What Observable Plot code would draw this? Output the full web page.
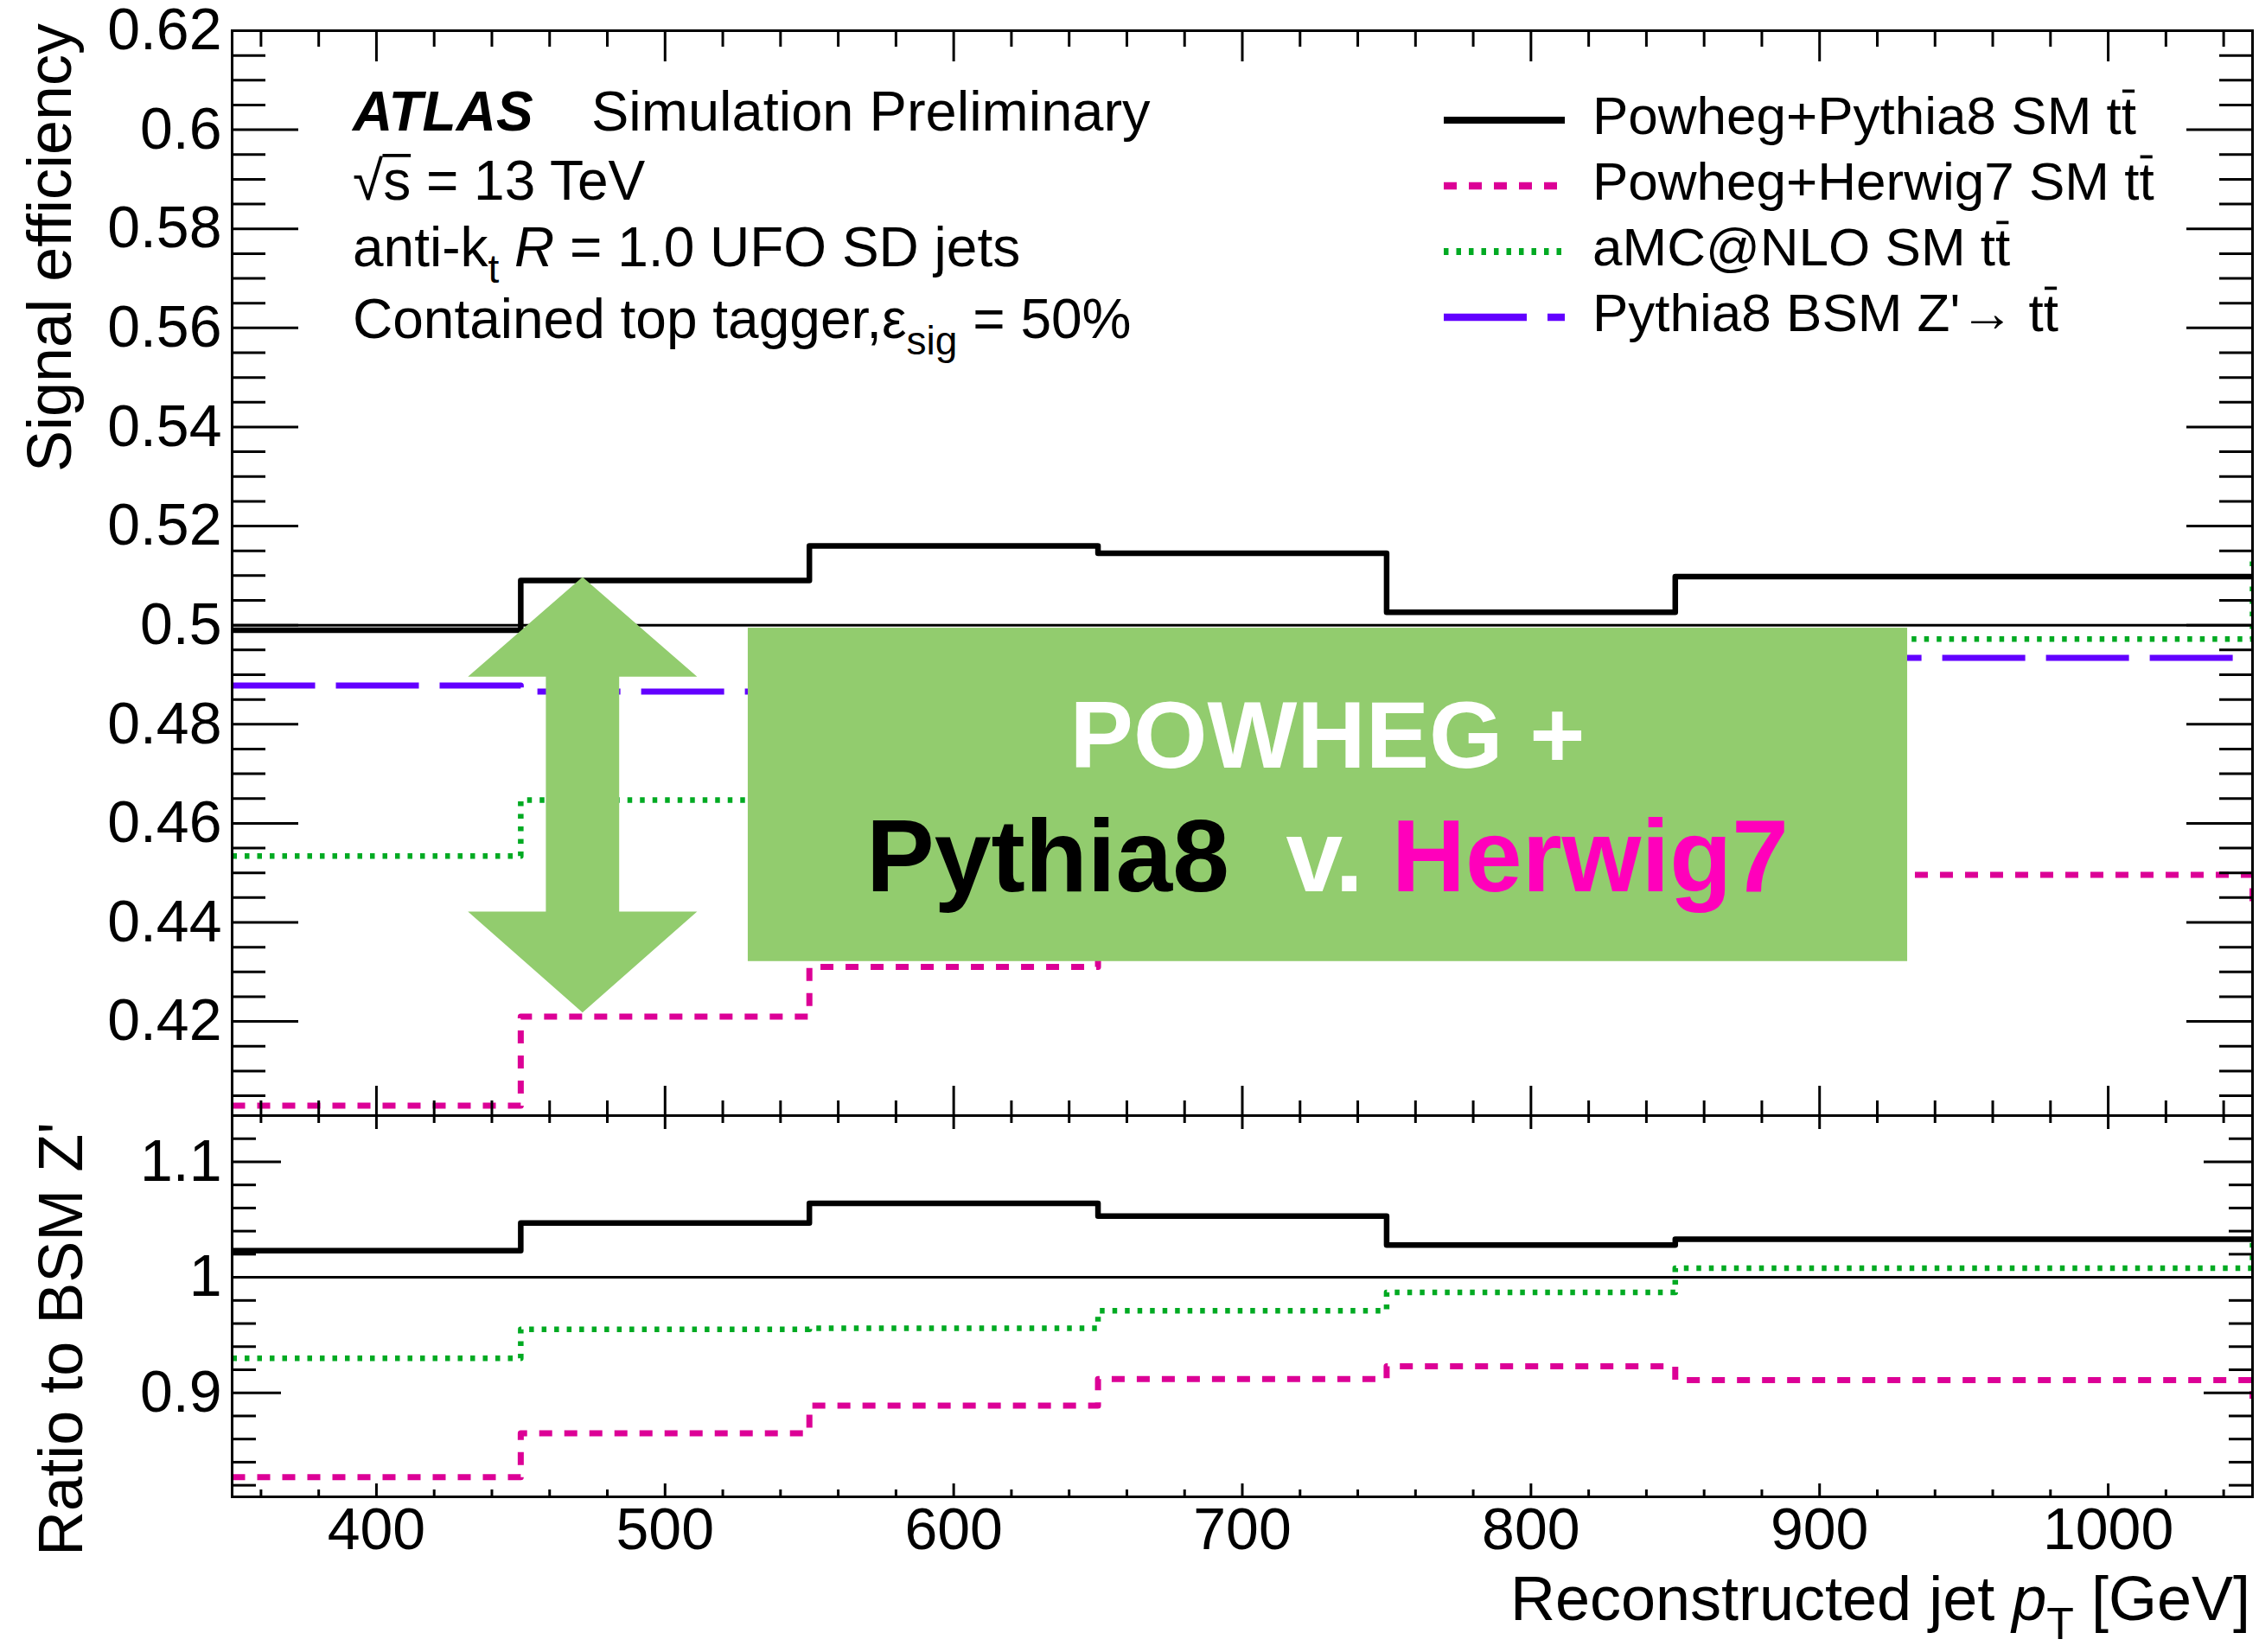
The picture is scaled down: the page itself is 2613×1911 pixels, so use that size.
<!DOCTYPE html>
<html>
<head>
<meta charset="utf-8">
<script src="https://cdn.jsdelivr.net/npm/d3@7"></script>
<script src="https://cdn.jsdelivr.net/npm/@observablehq/plot@0.6"></script>
<style>
  html, body { margin: 0; padding: 0; background: #ffffff; }
  #chart { position: relative; width: 2613px; height: 1911px; overflow: hidden; background: #ffffff; }
  #chart svg { position: absolute; left: 0; overflow: visible; }
</style>
</head>
<body>
<div id="chart"></div>
<script>
// ---------------- data ----------------
const binEdges = [350, 450, 550, 650, 750, 850, 1050];           // reconstructed jet pT bins [GeV]
const pythia8Eff = [0.499, 0.509, 0.516, 0.5145, 0.5026, 0.5098];  // Powheg+Pythia8 SM ttbar
const herwig7Eff = [0.403, 0.421, 0.431, 0.4457, 0.4513, 0.4496];  // Powheg+Herwig7 SM ttbar
const amcnloEff  = [0.4534, 0.4647, 0.4638, 0.4743, 0.4825, 0.4972]; // aMC@NLO SM ttbar
const zprimeEff  = [0.4878, 0.4866, 0.4852, 0.4885, 0.4891, 0.4934]; // Pythia8 BSM Z'
const pythia8Ratio = [1.023, 1.047, 1.064, 1.053, 1.028, 1.033];
const herwig7Ratio = [0.827, 0.865, 0.889, 0.912, 0.923, 0.911];
const amcnloRatio  = [0.930, 0.955, 0.956, 0.971, 0.987, 1.008];
// start of the next (out-of-range) bin: only its step at the right edge is visible
const herwig7Next = 0.444, amcnloNext = 0.514, herwig7RatioNext = 0.895, amcnloRatioNext = 1.035;

// tick labels
const xMajorTicks = [400, 500, 600, 700, 800, 900, 1000];
const effMajorTicks = [0.42, 0.44, 0.46, 0.48, 0.5, 0.52, 0.54, 0.56, 0.58, 0.6, 0.62];
const ratioMajorTicks = [0.9, 1, 1.1];

const legendLabels = ["Powheg+Pythia8 SM ", "Powheg+Herwig7 SM ", "aMC@NLO SM ", "Pythia8 BSM Z'\u2192 "];

// annotation overlay (data units)
const annotBox = {x1: 528.8, x2: 930.5, y1: 0.4321, y2: 0.4994};
const arrowSpec = {cx: 471.4, head: 39.7, shaft: 12.7, top: 0.5097, headTop: 0.4896, headBottom: 0.4422, bottom: 0.4218};

// ---------------- styles ----------------
const FONT = '"Liberation Sans", Arial, Helvetica, sans-serif';
const C = {pythia: "#000000", herwig: "#dc0096", amc: "#00aa22", zprime: "#6200ff", box: "#92cc6e", pink: "#ff00bb"};
const S = {
  pythia: {stroke: C.pythia, strokeWidth: 6.5},
  herwig: {stroke: C.herwig, strokeWidth: 7, strokeDasharray: "15,14"},
  amc:    {stroke: C.amc, strokeWidth: 6.5, strokeDasharray: "5.5,9"},
  zprime: {stroke: C.zprime, strokeWidth: 7, strokeDasharray: "96,24"}
};
const W = 2613, H = 1911;
const L = {left: 268, right: 8, top: 35, split: 1290, bottom: 1731};

function minorTicks(lo, hi, step, majors) {
  const out = [];
  const n = Math.round((hi - lo) / step);
  for (let i = 0; i <= n; i++) {
    const v = +(lo + i * step).toFixed(4);
    if (!majors.some(m => Math.abs(m - v) < 1e-9)) out.push(v);
  }
  return out;
}
const xMinorTicks = minorTicks(360, 1040, 20, xMajorTicks);
const effMinorTicks = minorTicks(0.405, 0.62, 0.005, effMajorTicks);
const ratioMinorTicks = minorTicks(0.82, 1.14, 0.02, ratioMajorTicks);

function steps(values, next) {
  const pts = values.map((v, i) => ({x: binEdges[i], y: v}));
  pts.push({x: binEdges[binEdges.length - 1], y: values[values.length - 1]});
  if (next != null) pts.push({x: binEdges[binEdges.length - 1], y: next});
  return pts;
}
function hist(values, style, next) {
  return Plot.line(steps(values, next), {x: "x", y: "y", curve: "step-after", clip: true, strokeLinecap: "butt", ...style});
}
function frameTicks(xMaj, xMin, yMaj, yMin, t) {
  const o = {fill: "none", label: null, strokeWidth: 3, stroke: "black"};
  return [
    Plot.axisY(yMaj, {anchor: "left", tickSize: -t.yMaj, ...o}),
    Plot.axisY(yMin, {anchor: "left", tickSize: -t.yMin, ...o}),
    Plot.axisY(yMaj, {anchor: "right", tickSize: -t.yMaj, ...o}),
    Plot.axisY(yMin, {anchor: "right", tickSize: -t.yMin, ...o}),
    Plot.axisX(xMaj, {anchor: "bottom", tickSize: -t.xMajB, ...o}),
    Plot.axisX(xMin, {anchor: "bottom", tickSize: -t.xMinB, ...o}),
    Plot.axisX(xMaj, {anchor: "top", tickSize: -t.xMajT, ...o}),
    Plot.axisX(xMin, {anchor: "top", tickSize: -t.xMinT, ...o})
  ];
}

const arrowPts = (() => {
  const a = arrowSpec;
  return [
    {x: a.cx, y: a.top}, {x: a.cx + a.head, y: a.headTop}, {x: a.cx + a.shaft, y: a.headTop},
    {x: a.cx + a.shaft, y: a.headBottom}, {x: a.cx + a.head, y: a.headBottom}, {x: a.cx, y: a.bottom},
    {x: a.cx - a.head, y: a.headBottom}, {x: a.cx - a.shaft, y: a.headBottom}, {x: a.cx - a.shaft, y: a.headTop},
    {x: a.cx - a.head, y: a.headTop}, {x: a.cx, y: a.top}
  ];
})();

// ---------------- top panel ----------------
const topPlot = Plot.plot({
  width: W, height: L.split,
  marginLeft: L.left, marginRight: L.right, marginTop: L.top, marginBottom: 0,
  style: {fontFamily: FONT, fontSize: "68px", color: "black", background: "transparent"},
  x: {domain: [350, 1050]},
  y: {domain: [0.401, 0.62]},
  marks: [
    Plot.ruleY([0.5], {stroke: "black", strokeWidth: 3}),
    hist(zprimeEff, S.zprime),
    hist(amcnloEff, S.amc, amcnloNext),
    hist(herwig7Eff, S.herwig, herwig7Next),
    hist(pythia8Eff, S.pythia),
    Plot.rect([annotBox], {x1: "x1", x2: "x2", y1: "y1", y2: "y2", fill: C.box}),
    Plot.line(arrowPts, {x: "x", y: "y", fill: C.box, stroke: "none"}),
    Plot.axisY(effMajorTicks, {anchor: "left", tickSize: 0, tickPadding: 12, tickFormat: d => String(d), label: null}),
    ...frameTicks(xMajorTicks, xMinorTicks, effMajorTicks, effMinorTicks, {yMaj: 77, yMin: 39, xMajB: 34, xMinB: 17, xMajT: 35, xMinT: 18}),
    Plot.frame({stroke: "black", strokeWidth: 3})
  ]
});

// ---------------- ratio panel ----------------
const botPlot = Plot.plot({
  width: W, height: H - L.split,
  marginLeft: L.left, marginRight: L.right, marginTop: 0, marginBottom: H - L.bottom,
  style: {fontFamily: FONT, fontSize: "68px", color: "black", background: "transparent"},
  x: {domain: [350, 1050]},
  y: {domain: [0.81, 1.14]},
  marks: [
    Plot.ruleY([1], {stroke: "black", strokeWidth: 3}),
    hist(amcnloRatio, S.amc, amcnloRatioNext),
    hist(herwig7Ratio, S.herwig, herwig7RatioNext),
    hist(pythia8Ratio, S.pythia),
    Plot.axisY(ratioMajorTicks, {anchor: "left", tickSize: 0, tickPadding: 12, tickFormat: d => String(d), label: null}),
    Plot.axisX(xMajorTicks, {anchor: "bottom", tickSize: 0, tickPadding: 12, tickFormat: d => String(d), label: null}),
    ...frameTicks(xMajorTicks, xMinorTicks, ratioMajorTicks, ratioMinorTicks, {yMaj: 57, yMin: 28, xMajB: 15, xMinB: 8, xMajT: 15, xMinT: 8}),
    Plot.frame({stroke: "black", strokeWidth: 3})
  ]
});

const chart = document.getElementById("chart");
topPlot.style.top = "0px";
botPlot.style.top = L.split + "px";
chart.appendChild(topPlot);
chart.appendChild(botPlot);

// ---------------- rich text helper ----------------
// parts: {t, sub, italic, bold, fill, bar: [heightFraction, startInset, endInset]}
function rich(svgEl, x, y, parts, {size, anchor = "start", rotate = null, fill = "black", weight = null, style = null}) {
  const g = d3.select(svgEl).append("g");
  const t = g.append("text")
    .attr("x", x).attr("y", y)
    .attr("font-family", FONT).attr("font-size", size)
    .attr("text-anchor", anchor).attr("fill", fill)
    .attr("xml:space", "preserve").style("white-space", "pre");
  if (weight) t.attr("font-weight", weight);
  if (style) t.attr("font-style", style);
  if (rotate != null) g.attr("transform", `rotate(${rotate},${x},${y})`);
  let shift = 0;
  const bars = [];
  for (const p of parts) {
    const ts = t.append("tspan").text(p.t);
    const target = p.sub ? size * 0.3 : 0;
    if (target !== shift) { ts.attr("dy", target - shift); shift = target; }
    if (p.sub) ts.attr("font-size", size * 0.72);
    if (p.italic) ts.attr("font-style", "italic");
    if (p.bold) ts.attr("font-weight", "bold");
    if (p.fill) ts.attr("fill", p.fill);
    if (p.bar) bars.push([ts, p.bar]);
  }
  for (const [ts, [h, a, b]] of bars) {
    const bb = ts.node().getBBox();
    const yy = y - size * h;
    g.append("line")
      .attr("x1", bb.x + size * a).attr("x2", bb.x + bb.width - size * b)
      .attr("y1", yy).attr("y2", yy)
      .attr("stroke", fill).attr("stroke-width", Math.max(3, size * 0.06));
  }
  return t;
}
const ttbar = [{t: "t"}, {t: "t", bar: [0.8, 0.02, 0.03]}];

// axis titles
rich(topPlot, 82, 27, [{t: "Signal efficiency"}], {size: 72, anchor: "end", rotate: -90});
rich(botPlot, 95, 8, [{t: "Ratio to BSM Z'"}], {size: 72, anchor: "end", rotate: -90});
rich(botPlot, 2603, 584, [{t: "Reconstructed jet "}, {t: "p", italic: true}, {t: "T", sub: true}, {t: " [GeV]"}], {size: 72, anchor: "end"});

// ATLAS label block
rich(topPlot, 408, 151, [{t: "ATLAS"}], {size: 64, weight: "bold", style: "italic"});
rich(topPlot, 684, 151, [{t: "Simulation Preliminary"}], {size: 65});
rich(topPlot, 408, 231, [{t: "\u221A"}, {t: "s", bar: [0.8, -0.01, 0]}, {t: " = 13 TeV"}], {size: 64});
rich(topPlot, 408, 308, [{t: "anti-k"}, {t: "t", sub: true}, {t: " "}, {t: "R", italic: true}, {t: " = 1.0 UFO SD jets"}], {size: 64});
rich(topPlot, 408, 391, [{t: "Contained top tagger,\u03B5"}, {t: "sig", sub: true}, {t: " = 50%"}], {size: 64});

// legend
const legendStyles = [S.pythia, S.herwig, S.amc, S.zprime];
legendLabels.forEach((lab, i) => {
  const base = 155 + 76 * i;
  const st = legendStyles[i];
  d3.select(topPlot).append("line")
    .attr("x1", 1670).attr("x2", 1810).attr("y1", base - 16).attr("y2", base - 16)
    .attr("stroke", st.stroke).attr("stroke-width", st.strokeWidth + 1.5)
    .attr("stroke-dasharray", st.strokeDasharray || null);
  rich(topPlot, 1842, base, [{t: lab}, ...ttbar], {size: 62});
});

// annotation text on the green box
const xs = topPlot.scale("x"), ys = topPlot.scale("y");
const boxCx = xs.apply((annotBox.x1 + annotBox.x2) / 2);
const boxTop = ys.apply(annotBox.y2);
rich(topPlot, boxCx, boxTop + 162, [{t: "POWHEG +"}], {size: 110, anchor: "middle", fill: "#ffffff", weight: "bold"});
rich(topPlot, boxCx, boxTop + 305, [
  {t: "Pythia8", fill: "#000000"}, {t: "  v. ", fill: "#ffffff"}, {t: "Herwig7", fill: C.pink}
], {size: 118, anchor: "middle", weight: "bold"});
</script>
</body>
</html>
